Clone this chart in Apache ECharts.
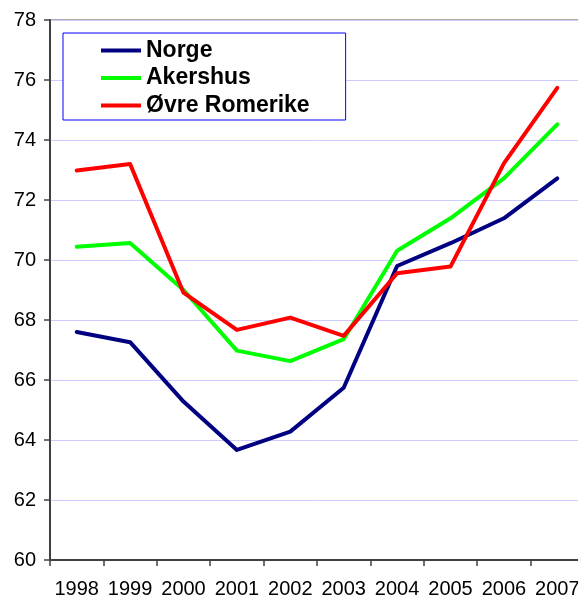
<!DOCTYPE html>
<html>
<head>
<meta charset="utf-8">
<script src="https://cdn.jsdelivr.net/npm/echarts@6/dist/echarts.min.js"></script>
<style>
  html, body { margin: 0; padding: 0; background: #fff; }
  #chart { width: 578px; height: 597px; }
</style>
</head>
<body>
<div id="chart"></div>
<script>
// Years on the category axis
const years = ['1998', '1999', '2000', '2001', '2002', '2003', '2004', '2005', '2006', '2007'];

// Series values per year
const norge = [67.6, 67.26, 65.28, 63.67, 64.28, 65.74, 69.8, 70.56, 71.39, 72.72];
const akershus = [70.44, 70.57, 69.0, 66.98, 66.63, 67.36, 70.31, 71.39, 72.72, 74.52];
const ovreRomerike = [72.98, 73.2, 68.91, 67.67, 68.08, 67.47, 69.56, 69.78, 73.22, 75.74];

const seriesNames = ['Norge', 'Akershus', 'Øvre Romerike'];
const seriesColors = ['#000080', '#00ff00', '#ff0000'];
const seriesData = [norge, akershus, ovreRomerike];

const FONT = '"Liberation Sans", Arial, Helvetica, sans-serif';

const chart = echarts.init(document.getElementById('chart'), null, { renderer: 'canvas' });

chart.setOption({
  animation: false,
  backgroundColor: '#ffffff',
  grid: {
    left: 50,
    top: 20,
    width: 534,
    height: 540,
    outerBoundsMode: 'none',
    containLabel: false,
    show: true,
    borderColor: '#909090',
    borderWidth: 1.5,
    backgroundColor: 'transparent'
  },
  legend: {
    orient: 'vertical',
    left: 63,
    top: 33,
    data: seriesNames,
    icon: 'rect',
    itemWidth: 40,
    itemHeight: 4,
    itemGap: 4.5,
    padding: [6, 36, 3, 38],
    borderColor: '#0000ff',
    borderWidth: 1,
    backgroundColor: '#ffffff',
    textStyle: {
      fontFamily: FONT,
      fontWeight: 'bold',
      fontSize: 23,
      lineHeight: 22,
      color: '#000',
      padding: [0, 0, 0, 0]
    }
  },
  xAxis: {
    type: 'category',
    data: years,
    boundaryGap: true,
    axisLine: { show: true, lineStyle: { color: '#404040', width: 2 } },
    axisTick: { show: true, length: 6, lineStyle: { color: '#404040', width: 1.5 } },
    axisLabel: {
      fontFamily: FONT,
      fontSize: 20,
      color: '#000',
      margin: 19,
      interval: 0
    },
    splitLine: { show: false }
  },
  yAxis: {
    type: 'value',
    min: 60,
    max: 78,
    interval: 2,
    axisLine: { show: true, lineStyle: { color: '#404040', width: 2 } },
    axisTick: { show: true, length: 6, lineStyle: { color: '#404040', width: 1.5 } },
    axisLabel: {
      fontFamily: FONT,
      fontSize: 20,
      color: '#000',
      margin: 14
    },
    splitLine: { show: true, lineStyle: { color: '#ccccff', width: 1 } }
  },
  series: seriesNames.map((name, i) => ({
    name: name,
    type: 'line',
    data: seriesData[i],
    symbol: 'none',
    smooth: false,
    color: seriesColors[i],
    lineStyle: { color: seriesColors[i], width: 4, cap: 'round', join: 'round' },
    z: 3 + i
  }))
});
</script>
</body>
</html>
